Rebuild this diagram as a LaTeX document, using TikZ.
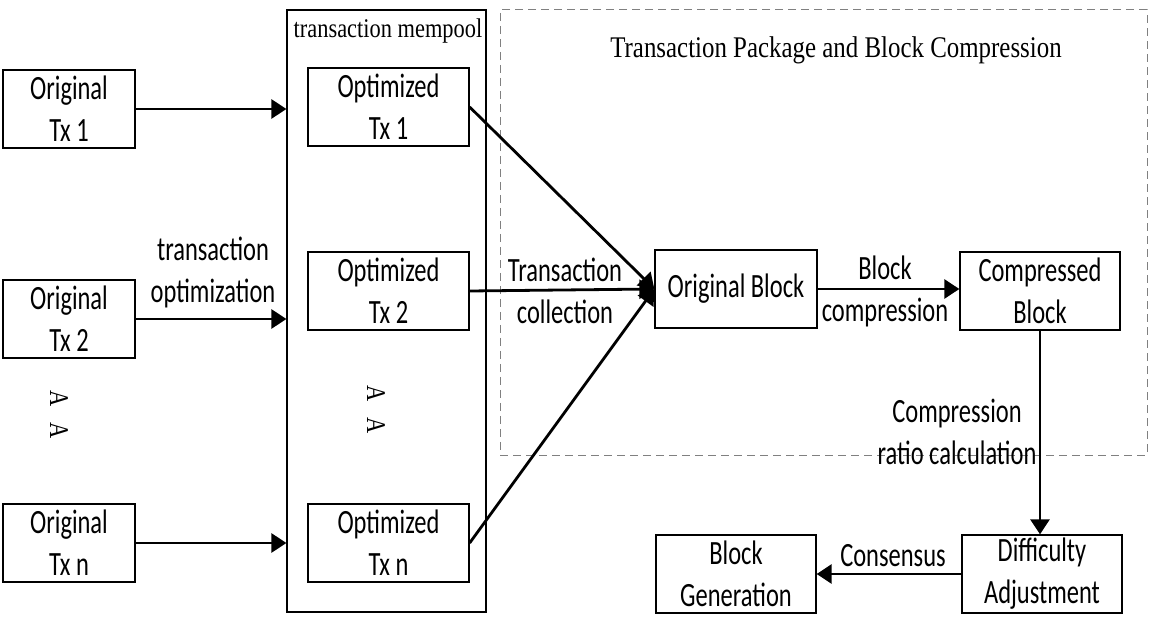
\documentclass[tikz,border=0pt]{standalone}
\usepackage{fontspec}
\setmainfont{Carlito}[FakeStretch=0.72]
\newfontfamily\tmsfont{Liberation Serif}[FakeStretch=0.83]
\usetikzlibrary{arrows.meta}
\begin{document}
\begin{tikzpicture}[x=1pt,y=-1pt,
  box/.style={draw, line width=1.3pt, minimum width=161pt, minimum height=78pt, inner sep=0pt, align=center, font=\fontsize{34}{42}\selectfont},
  obox/.style={box, minimum width=132pt},
  lbl/.style={inner sep=0pt, align=center, font=\fontsize{34}{42}\selectfont},
  arr/.style={line width=2.8pt, -{Triangle[length=15pt,width=19pt]}},
  vdots/.style={rotate=-90, inner sep=0pt, font=\tmsfont\fontsize{27}{27}\selectfont}]
\useasboundingbox (0,0) rectangle (1168,620);

% containers
\node[draw, line width=1.2pt, minimum width=199pt, minimum height=602pt, inner sep=0pt] (pool) at (386.5,311) {};
\node[inner sep=0pt, font=\tmsfont\fontsize{27}{27}\selectfont] (poollbl) at (388,31) {transaction mempool};
\node[draw=gray, dashed, dash pattern=on 8pt off 5pt, line width=1pt, minimum width=647pt, minimum height=445pt, inner sep=0pt] (pkg) at (823.5,232.5) {};
\node[inner sep=0pt, font=\tmsfont\fontsize{30}{30}\selectfont] (pkglbl) at (836,50) {Transaction Package and Block Compression};

% original transactions
\node[obox] (o1) at (69,109) {Original\\Tx 1};
\node[obox] (o2) at (69,319) {Original\\Tx 2};
\node[obox] (on) at (69,543) {Original\\Tx n};

% optimized transactions
\node[box] (p1) at (388.5,107) {Optimized\\Tx 1};
\node[box] (p2) at (388.5,291) {Optimized\\Tx 2};
\node[box] (pn) at (388.5,543) {Optimized\\Tx n};

% dots
\node[vdots] (d1) at (59,399) {A};
\node[vdots] (d2) at (59,431) {A};
\node[vdots] (d3) at (376,394) {A};
\node[vdots] (d4) at (376,426) {A};

% blocks
\node[box, minimum width=162pt] (ob) at (736,289) {Original Block};
\node[box, minimum width=160pt] (cb) at (1040,291) {Compressed\\Block};
\node[box, minimum width=160pt] (da) at (1042,574) {Difficulty\\Adjustment};
\node[box, minimum width=160pt] (bg) at (736,574) {Block\\Generation};

% connectors
\draw[arr] (o1.east) -- (o1.east -| pool.west);
\draw[arr] (o2.east) -- (o2.east -| pool.west);
\draw[arr] (on.east) -- (on.east -| pool.west);
\draw[arr] (p1.east) -- (ob.west);
\draw[arr] (p2.east) -- (ob.west);
\draw[arr] (pn.east) -- (ob.west);
\draw[arr] (ob.east) -- (ob.east -| cb.west);
\draw[arr] (cb.south) -- (cb.south |- da.north);
\draw[arr] (da.west) -- (da.west -| bg.east);

% labels
\node[lbl] (l1) at (213,272) {transaction\\optimization};
\node[lbl] (l2) at (565,291) {Transaction\\collection};
\node[lbl] (l3) at (885,291) {Block\\compression};
\node[lbl] (l4) at (957,432) {Compression\\ratio calculation};
\node[lbl] (l5) at (893,556) {Consensus};
\end{tikzpicture}
\end{document}
